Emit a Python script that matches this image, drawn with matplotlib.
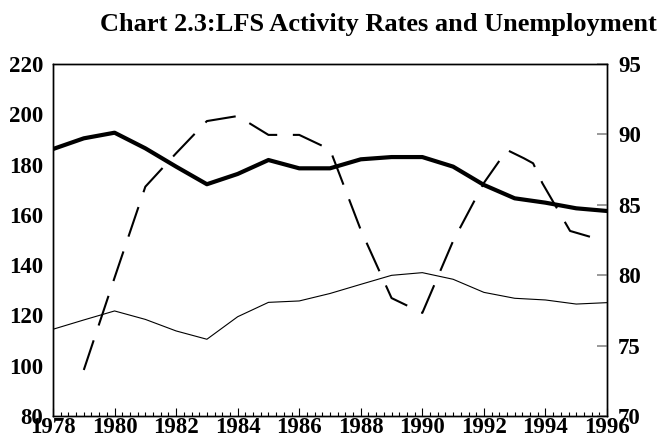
import matplotlib
matplotlib.use('Agg')
import matplotlib.pyplot as plt
from matplotlib.ticker import MultipleLocator

# 数据
years = list(range(1978, 1997))
male_rate = [88.96, 89.72, 90.12, 89.01, 87.71, 86.46, 87.19, 88.18, 87.59, 87.59,
             88.23, 88.39, 88.39, 87.71, 86.41, 85.46, 85.15, 84.75, 84.56]
female_rate = [76.16, 76.82, 77.46, 76.86, 76.04, 75.45, 77.05, 78.07, 78.17, 78.70,
               79.35, 79.99, 80.18, 79.71, 78.78, 78.36, 78.24, 77.95, 78.05]
unemp_x = [1979, 1980, 1981, 1982, 1983, 1984, 1985, 1986, 1987, 1988, 1989, 1990,
           1991, 1992, 1992.75, 1993.3, 1993.6, 1993.9, 1994.8, 1995.5]
unemp = [98.3, 135.0, 171.2, 184.5, 197.3, 199.3, 191.8, 191.8, 186.0, 154.0, 126.9, 121.0,
         149.6, 172.7, 185.8, 182.5, 180.5, 172.6, 153.6, 151.1]

left_ticks = [80, 100, 120, 140, 160, 180, 200, 220]
right_ticks = [70, 75, 80, 85, 90, 95]

plt.rcParams['font.family'] = ['Liberation Serif', 'DejaVu Serif']
plt.rcParams['font.weight'] = 'bold'

fig = plt.figure(figsize=(6.61, 4.45), dpi=100)
ax = fig.add_axes([0.0802, 0.0652, 0.8381, 0.791])
ax2 = ax.twinx()

# 失业人数（左轴，虚线）
ax.plot(unemp_x, unemp, color='black', lw=1.5, linestyle=(0, (15, 7.5)), zorder=2)
# 活动率（右轴）
ax2.plot(years, male_rate, color='black', lw=3.0, solid_joinstyle='round', zorder=3)
ax2.plot(years, female_rate, color='black', lw=0.8, zorder=3)

ax.set_xlim(1978, 1996)
ax.set_ylim(80, 220)
ax2.set_ylim(70, 95)
ax.set_yticks(left_ticks)
ax2.set_yticks(right_ticks)
ax.set_xticks(range(1978, 1997, 2))
ax.xaxis.set_minor_locator(MultipleLocator(0.25))

fs = 16.5
ax.tick_params(axis='x', which='major', direction='in', length=6, width=0.8, pad=1, labelsize=fs)
ax.tick_params(axis='x', which='minor', direction='in', length=3, width=0.8)
ax.tick_params(axis='y', length=0, pad=7, labelsize=fs)
ax2.tick_params(axis='y', direction='in', length=7, width=1.2, color='#888888', pad=8, labelsize=fs)

for a in (ax, ax2):
    for s in a.spines.values():
        s.set_linewidth(1.0)
        s.set_color('black')

fig.text(657 / 661, 1 - 31 / 445, 'Chart 2.3:LFS Activity Rates and Unemployment',
         ha='right', va='baseline', fontsize=19, fontweight='bold')

fig.savefig('out.png', dpi=100)
